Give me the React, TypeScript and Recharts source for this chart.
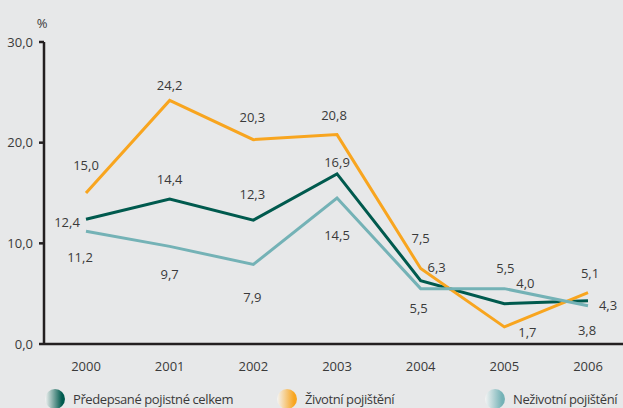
import { LineChart, Line, XAxis, YAxis, LabelList, Legend } from "recharts"

const years = ["2000", "2001", "2002", "2003", "2004", "2005", "2006"]
const celkem = [12.4, 14.4, 12.3, 16.9, 6.3, 4.0, 4.3]
const zivotni = [15.0, 24.2, 20.3, 20.8, 7.5, 1.7, 5.1]
const nezivotni = [11.2, 9.7, 7.9, 14.5, 5.5, 5.5, 3.8]
const yTicks = [0, 10, 20, 30]

const series = [
  { key: "celkem", name: "Předepsané pojistné celkem", color: "#005a4e" },
  { key: "zivotni", name: "Životní pojištění", color: "#f8a51f" },
  { key: "nezivotni", name: "Neživotní pojištění", color: "#74b2b6" },
]

// label offsets from each point (dx, dy) so they sit like the original
const labelOffsets: Record<string, number[][]> = {
  celkem: [[-19, 3], [0, -20], [-1, -26], [0, -12], [16, -14], [21, -21], [20, 4]],
  zivotni: [[0, -28], [0, -15], [-1, -23], [-3, -20], [0, -31], [23, 5], [2, -20]],
  nezivotni: [[-6, 26], [0, 28], [-1, 33], [0, 37], [-2, 19], [1, -21], [-1, 24]],
}

const data = years.map((year, i) => ({
  year,
  celkem: celkem[i],
  zivotni: zivotni[i],
  nezivotni: nezivotni[i],
}))

const font = "'Open Sans', sans-serif"
const textColor = "#3a3a3a"
const axisColor = "#231f20"

const fmt = (v: number) => v.toFixed(1).replace(".", ",")

const makeLabel = (key: string) => (props: any) => {
  const { x, y, value, index } = props
  const [dx, dy] = labelOffsets[key][index] || [0, -15]
  return (
    <text
      x={x + dx}
      y={y + dy}
      textAnchor="middle"
      dominantBaseline="central"
      fontSize={13}
      fontFamily={font}
      fill={textColor}
    >
      {fmt(value)}
    </text>
  )
}

const LegendContent = () => (
  <div
    style={{
      position: "relative",
      width: 623,
      height: 24,
      fontFamily: font,
      fontSize: 13,
      letterSpacing: "-0.4px",
      color: textColor,
      whiteSpace: "nowrap",
    }}
  >
    {series.map((s, i) => {
      const left = [45, 277, 485][i]
      return (
        <div key={s.key} style={{ position: "absolute", left, top: 1, display: "flex", alignItems: "center" }}>
          <div
            style={{
              width: 20,
              height: 20,
              borderRadius: "50%",
              background: `linear-gradient(to right, #f4f4f4 0%, ${s.color} 85%)`,
              marginRight: 8,
            }}
          />
          <span>{s.name}</span>
        </div>
      )
    })}
  </div>
)

export default function App() {
  return (
    <div style={{ width: 623, height: 408, background: "#e7e8e9", overflow: "hidden", position: "relative" }}>
      <style>{`body{margin:0}`}</style>
      <LineChart width={623} height={408} data={data} margin={{ top: 42, right: 0, left: 0, bottom: 0 }}>
        <XAxis
          dataKey="year"
          height={64}
          padding={{ left: 42, right: 35 }}
          tickLine={false}
          axisLine={{ stroke: axisColor, strokeWidth: 2.5 }}
          tick={{ fill: textColor, fontSize: 13, fontFamily: font }}
          tickMargin={12}
        />
        <YAxis
          domain={[0, 30]}
          ticks={yTicks}
          width={44}
          tickSize={5}
          tickMargin={6}
          tickFormatter={fmt}
          axisLine={{ stroke: axisColor, strokeWidth: 2.5 }}
          tickLine={{ stroke: axisColor, strokeWidth: 2.5 }}
          tick={{ fill: textColor, fontSize: 13, fontFamily: font }}
          label={{ value: "%", position: "top", dx: 20, offset: 14, fill: textColor, fontSize: 13, fontFamily: font }}
        />
        <Legend
          verticalAlign="middle"
          layout="horizontal"
          content={LegendContent}
          wrapperStyle={{ top: 388, left: 0, bottom: "auto", width: 623 }}
        />
        {series.map((s) => (
          <Line
            key={s.key}
            dataKey={s.key}
            name={s.name}
            stroke={s.color}
            strokeWidth={3}
            dot={false}
            activeDot={false}
            type="linear"
            isAnimationActive={false}
          >
            <LabelList dataKey={s.key} content={makeLabel(s.key)} />
          </Line>
        ))}
      </LineChart>
    </div>
  )
}
